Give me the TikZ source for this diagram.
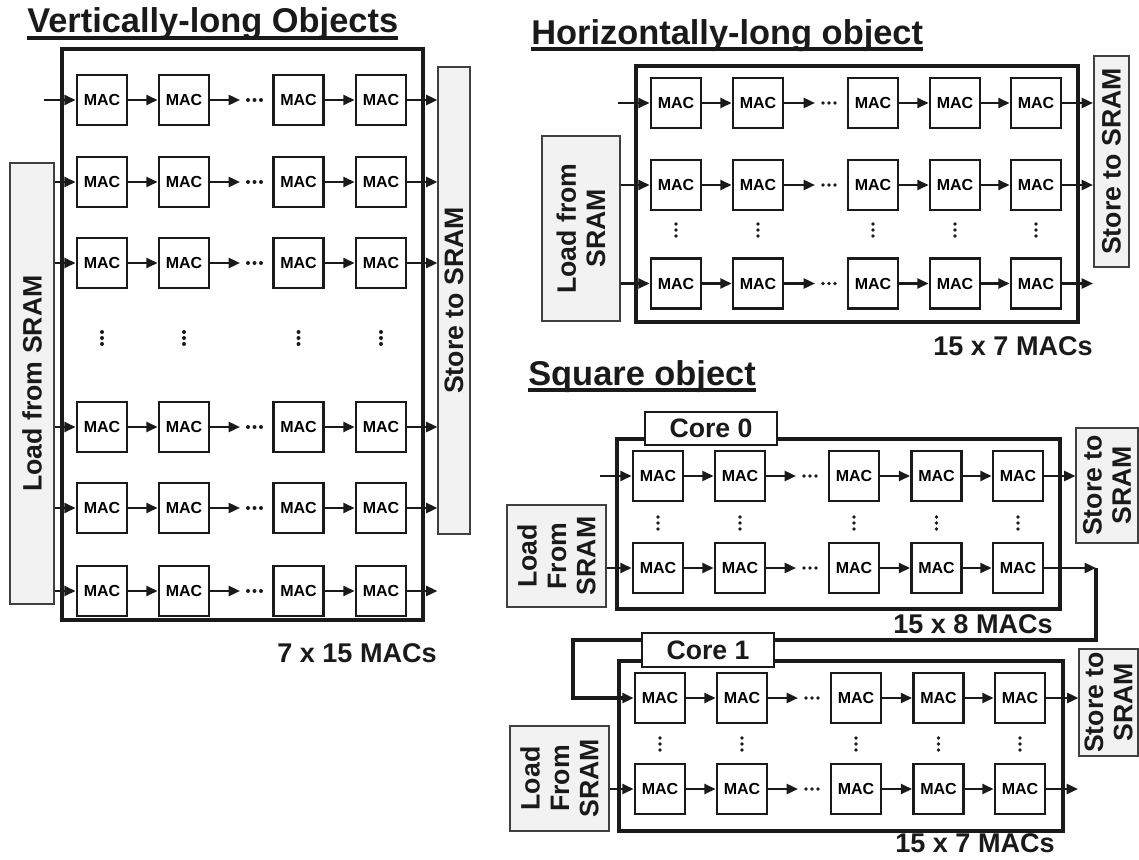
\documentclass[tikz,border=0pt]{standalone}
\usepackage{fontspec}
\setmainfont{Liberation Sans}
\usetikzlibrary{arrows.meta,calc,fit}
\definecolor{boxgray}{HTML}{F2F2F2}
\definecolor{ink}{HTML}{1A1A1A}
\begin{document}
\begin{tikzpicture}[x=0.75pt,y=-0.75pt,
  mac/.style={draw=ink,line width=2.1pt,minimum width=37.5pt,minimum height=37.5pt,inner sep=0pt,fill=white,font=\fontsize{12}{13}\selectfont\bfseries},
  frame/.style={draw=ink,line width=3.2pt,inner sep=0pt},
  arr/.style={draw=ink,line width=1.8pt,-{Triangle[length=8.5pt,width=7.5pt]}},
  loopline/.style={draw=ink,line width=2.4pt,-{Triangle[length=8.5pt,width=7.5pt]}},
  memload/.style={draw=black!75,line width=0.8pt,fill=boxgray,inner sep=0pt},
  memtext/.style={rotate=90,align=center,inner sep=0pt,text=ink,font=\fontsize{20}{22}\selectfont\bfseries},
  title/.style={anchor=base west,inner sep=0pt,text=ink,font=\fontsize{25.8}{28}\selectfont\bfseries},
  caption/.style={anchor=base east,inner sep=0pt,text=ink,font=\fontsize{20.3}{24}\selectfont\bfseries},
  corelabel/.style={draw=ink,line width=0.9pt,fill=white,inner sep=0pt,text=ink,font=\fontsize{20}{22}\selectfont\bfseries},
  uline/.style={draw=ink,line width=2.4pt},
]
\useasboundingbox (0,0) rectangle (1139,860);

% ---------------- Titles ----------------
\node[title] (T1) at (27,32) {Vertically-long Objects};
\draw[uline] ($(T1.base west)+(0,6)$) -- ($(T1.base east)+(0,6)$);
\node[title] (T2) at (531,44) {Horizontally-long object};
\draw[uline] ($(T2.base west)+(0,5)$) -- ($(T2.base east)+(0,5)$);
\node[title] (T3) at (528,385) {Square object};
\draw[uline] ($(T3.base west)+(0,5)$) -- ($(T3.base east)+(0,5)$);

% ---------------- Vertically-long ----------------
\node[frame,fit={(62,49)(423,620)}] (VF) {};
\node[memload,fit={(10,163)(54,604)}] (VL) {};
\node[memtext] at (VL) {Load from SRAM};
\node[memload,fit={(438,67)(470,534)}] (VS) {};
\node[memtext] at (VS) {Store to SRAM};
\coordinate (Vin) at (44,100);
\foreach \r/\y in {1/100,2/182,3/263,4/427,5/508,6/591}{
  \foreach \c/\x in {1/102,2/184,3/298.5,4/381}{
    \node[mac] (V\r\c) at (\x,\y) {MAC};
  }
  \coordinate (Vd\r) at (240,\y);
  \draw[arr] (V\r1.east) -- (V\r2.west);
  \draw[arr] (V\r2.east) -- (Vd\r);
  \foreach \dx in {248,254.5,261} \fill[ink] (\dx,\y) circle (1.5pt);
  \draw[arr] (V\r3.east) -- (V\r4.west);
  \draw[arr] (V\r4.east) -- (VS.west |- V\r4);
}
\draw[arr] (Vin) -- (V11.west);
\foreach \r in {2,...,6}{\draw[arr] (VL.east |- V\r1) -- (V\r1.west);}
\foreach \x in {102,184,298.5,381}{\foreach \dy in {-6,0,6} \fill[ink] (\x,338+\dy) circle (1.5pt);}
\node[caption] (VC) at (437,662) {7 x 15 MACs};

% ---------------- Horizontally-long ----------------
\node[frame,fit={(636,66)(1078,322)}] (HF) {};
\node[memload,fit={(542,136)(620,321)}] (HL) {};
\node[memtext] at (HL) {Load from\\SRAM};
\node[memload,fit={(1094,56)(1129,267)}] (HS) {};
\node[memtext] at (HS) {Store to SRAM};
\coordinate (Hin) at (618,103);
\foreach \r/\y in {1/103,2/185,3/283.5}{
  \foreach \c/\x in {1/676,2/758,3/873,4/955,5/1036}{
    \node[mac] (H\r\c) at (\x,\y) {MAC};
  }
  \coordinate (Hd\r) at (815,\y);
  \coordinate (Ho\r) at (1093,\y);
  \draw[arr] (H\r1.east) -- (H\r2.west);
  \draw[arr] (H\r2.east) -- (Hd\r);
  \foreach \dx in {823,829,835} \fill[ink] (\dx,\y) circle (1.4pt);
  \draw[arr] (H\r3.east) -- (H\r4.west);
  \draw[arr] (H\r4.east) -- (H\r5.west);
  \draw[arr] (H\r5.east) -- (Ho\r);
}
\draw[arr] (Hin) -- (H11.west);
\foreach \r in {2,3}{\draw[arr] (HL.east |- H\r1) -- (H\r1.west);}
\foreach \x in {676,758,873,955,1036}{\foreach \dy in {-6,0,6} \fill[ink] (\x,230+\dy) circle (1.4pt);}
\node[caption] (HC) at (1093,355) {15 x 7 MACs};

% ---------------- Square: Core 0 ----------------
\node[frame,fit={(617,439)(1060,609)}] (AF) {};
\node[corelabel,fit={(645,412)(777,445)}] (AT) {};
\node[text=ink,font=\fontsize{20}{22}\selectfont\bfseries,inner sep=0pt] at (AT) {Core 0};
\node[memload,fit={(507,505)(606,607)}] (AL) {};
\node[memtext] at (AL) {Load\\From\\SRAM};
\node[memload,fit={(1076,428)(1138,543)}] (AS) {};
\node[memtext] at (AS) {Store to\\SRAM};
\coordinate (Ain) at (600,476);
\foreach \r/\y in {1/476,2/568}{
  \foreach \c/\x in {1/658,2/740,3/854,4/936.5,5/1018}{
    \node[mac] (A\r\c) at (\x,\y) {MAC};
  }
  \coordinate (Ad\r) at (796,\y);
  \draw[arr] (A\r1.east) -- (A\r2.west);
  \draw[arr] (A\r2.east) -- (Ad\r);
  \foreach \dx in {804,810,816} \fill[ink] (\dx,\y) circle (1.4pt);
  \draw[arr] (A\r3.east) -- (A\r4.west);
  \draw[arr] (A\r4.east) -- (A\r5.west);
}
\draw[arr] (Ain) -- (A11.west);
\draw[arr] (AL.east |- A21) -- (A21.west);
\draw[arr] (A15.east) -- (AS.west |- A15);
\coordinate (Aout) at (1096,568);
\draw[arr] (A25.east) -- (Aout);
\foreach \x in {658,740,854,936.5,1018}{\foreach \dy in {-6,0,6} \fill[ink] (\x,523+\dy) circle (1.4pt);}
\node[caption] (AC) at (1053,633) {15 x 8 MACs};

% ---------------- Square: Core 1 ----------------
\node[frame,fit={(619,661)(1063,831)}] (BF) {};
\node[memload,fit={(510,726)(609,831)}] (BL) {};
\node[memtext] at (BL) {Load\\From\\SRAM};
\node[memload,fit={(1079,649)(1138,756)}] (BS) {};
\node[memtext] at (BS) {Store to\\SRAM};
\foreach \r/\y in {1/698,2/789}{
  \foreach \c/\x in {1/660,2/742,3/856,4/938.5,5/1020}{
    \node[mac] (B\r\c) at (\x,\y) {MAC};
  }
  \coordinate (Bd\r) at (798,\y);
  \draw[arr] (B\r1.east) -- (B\r2.west);
  \draw[arr] (B\r2.east) -- (Bd\r);
  \foreach \dx in {806,812,818} \fill[ink] (\dx,\y) circle (1.4pt);
  \draw[arr] (B\r3.east) -- (B\r4.west);
  \draw[arr] (B\r4.east) -- (B\r5.west);
}
\draw[arr] (BL.east |- B21) -- (B21.west);
\draw[arr] (B15.east) -- (BS.west |- B15);
\coordinate (Bout) at (1078,789);
\draw[arr] (B25.east) -- (Bout);
\foreach \x in {660,742,856,938.5,1020}{\foreach \dy in {-6,0,6} \fill[ink] (\x,744+\dy) circle (1.4pt);}
\node[caption] (BC) at (1055,852) {15 x 7 MACs};

% ---------------- Core 0 -> Core 1 link ----------------
\coordinate (Lp1) at (1096,640);
\coordinate (Lp2) at (573,640);
\coordinate (Lp3) at (573,698);
\draw[loopline,line join=miter] (Aout) -- (Lp1) -- (Lp2) -- (Lp3) -- (B11.west);

% Core 1 label drawn on top of the link
\node[corelabel,fit={(642,633)(774,667)}] (BT) {};
\node[text=ink,font=\fontsize{20}{22}\selectfont\bfseries,inner sep=0pt] at (BT) {Core 1};
\end{tikzpicture}
\end{document}
